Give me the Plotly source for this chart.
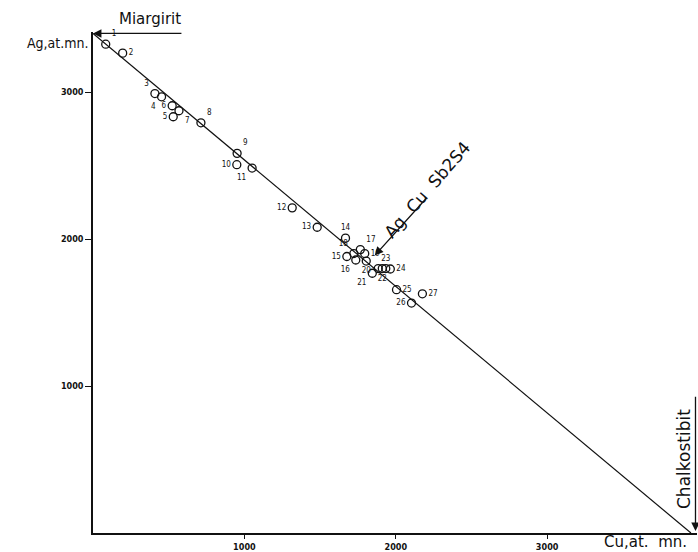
import plotly.graph_objects as go

# ---- data ----
point_labels = ["1", "2", "3", "4", "5", "6", "7", "8", "9", "10", "11", "12", "13", "14",
                "15", "16", "17", "18", "19", "20", "21", "", "22", "23", "24", "25", "26", "27"]
cu_values = [84, 196, 409, 453, 530, 523, 568, 713, 952, 950, 1051, 1316, 1481, 1668,
             1677, 1736, 1766, 1723, 1795, 1805, 1845, 1884, 1911, 1934, 1964, 2005, 2104, 2176]
ag_values = [3327, 3266, 2991, 2969, 2833, 2908, 2874, 2792, 2584, 2507, 2484, 2213, 2081, 2007,
             1882, 1858, 1929, 1902, 1902, 1851, 1768, 1800, 1800, 1800, 1797, 1656, 1565, 1628]
label_pos = ["top right", "middle right", "top left", "bottom left", "middle left", "middle left",
             "bottom right", "top right", "top right", "middle left", "bottom left", "middle left",
             "middle left", "top center", "middle left", "bottom left", "top right", "top left",
             "middle right", "bottom center", "bottom left", "middle left", "bottom center", "top center",
             "middle right", "middle right", "middle left", "middle right"]

line_cu = [0, 3950]
line_ag = [3400, 0]

x_ticks = [1000, 2000, 3000]
y_ticks = [1000, 2000, 3000]

# ---- layout geometry (pixels) ----
W, H = 698, 552
L, R, T, B = 93, 1, 32, 19
XMAX, YMAX = 3990, 3410
pw = W - L - R
ph = H - T - B


def px(x):
    return (x - L) / pw


def py(y):
    return (H - B - y) / ph


tick_font = dict(family="Liberation Sans Narrow, DejaVu Sans Condensed, sans-serif",
                 size=9, color="#111", weight="bold")
label_font = dict(family="DejaVu Sans, Noto Sans, sans-serif", color="#111")

fig = go.Figure()
fig.add_trace(go.Scatter(x=line_cu, y=line_ag, mode="lines",
                         line=dict(color="#111", width=1.2), hoverinfo="skip"))
fig.add_trace(go.Scatter(x=cu_values, y=ag_values, mode="markers+text",
                         marker=dict(symbol="circle-open", size=8, color="#111",
                                     line=dict(width=1.3, color="#111")),
                         text=point_labels, textposition=label_pos,
                         textfont=dict(family="Liberation Sans Narrow, DejaVu Sans Condensed",
                                       size=8, color="#111"),
                         cliponaxis=False))

annotations = [
    dict(text="Ag,at.mn.", xref="paper", yref="paper", x=px(91), y=py(43),
         xanchor="right", yanchor="middle", showarrow=False,
         font=dict(size=14, family="DejaVu Sans Condensed, DejaVu Sans, sans-serif", color="#111")),
    dict(text="Cu,at.  mn.", xref="paper", yref="paper", x=px(645), y=py(542),
         xanchor="center", yanchor="middle", showarrow=False, font=dict(size=15, **label_font)),
    dict(text="Miargirit", xref="paper", yref="paper", x=px(150), y=py(19),
         xanchor="center", yanchor="middle", showarrow=False, font=dict(size=15, **label_font)),
    dict(text="Chalkostibit", xref="paper", yref="paper", x=px(684), y=py(459),
         xanchor="center", yanchor="middle", textangle=-90, showarrow=False,
         font=dict(size=17, **label_font)),
    dict(text="Ag  Cu  Sb2S4", xref="paper", yref="paper", x=px(427), y=py(190),
         xanchor="center", yanchor="middle", textangle=-49, showarrow=False,
         font=dict(size=17, **label_font)),
    # arrows
    dict(text="", x=0, y=3400, ax=594, ay=3400, xref="x", yref="y", axref="x", ayref="y",
         showarrow=True, arrowhead=2, arrowsize=1.3, arrowwidth=1.3, arrowcolor="#111",
         standoff=0),
    dict(text="", x=3980, y=14, ax=3980, ay=937, xref="x", yref="y", axref="x", ayref="y",
         showarrow=True, arrowhead=2, arrowsize=1.3, arrowwidth=1.3, arrowcolor="#111",
         standoff=0),
    dict(text="", x=1861, y=1889, ax=2211, ay=2289, xref="x", yref="y", axref="x", ayref="y",
         showarrow=True, arrowhead=2, arrowsize=1.3, arrowwidth=1.3, arrowcolor="#111",
         standoff=0),
]

fig.update_layout(
    width=W, height=H,
    margin=dict(l=L, r=R, t=T, b=B, pad=0),
    paper_bgcolor="white", plot_bgcolor="white",
    showlegend=False,
    annotations=annotations,
    xaxis=dict(range=[0, XMAX], tickvals=x_ticks, ticktext=[str(v) for v in x_ticks],
               showgrid=False, zeroline=False, showline=True, linecolor="#111", linewidth=1.5,
               ticks="outside", ticklen=4, tickwidth=1.2, tickcolor="#111",
               tickfont=tick_font, fixedrange=True),
    yaxis=dict(range=[0, YMAX], tickvals=y_ticks, ticktext=[str(v) for v in y_ticks],
               showgrid=False, zeroline=False, showline=True, linecolor="#111", linewidth=1.5,
               ticks="outside", ticklen=6, tickwidth=1.2, tickcolor="#111",
               tickfont=tick_font, fixedrange=True),
)

fig.write_html("out.html", config={"displayModeBar": False},
               post_script="document.body.style.margin='0';document.body.style.overflow='hidden';")
